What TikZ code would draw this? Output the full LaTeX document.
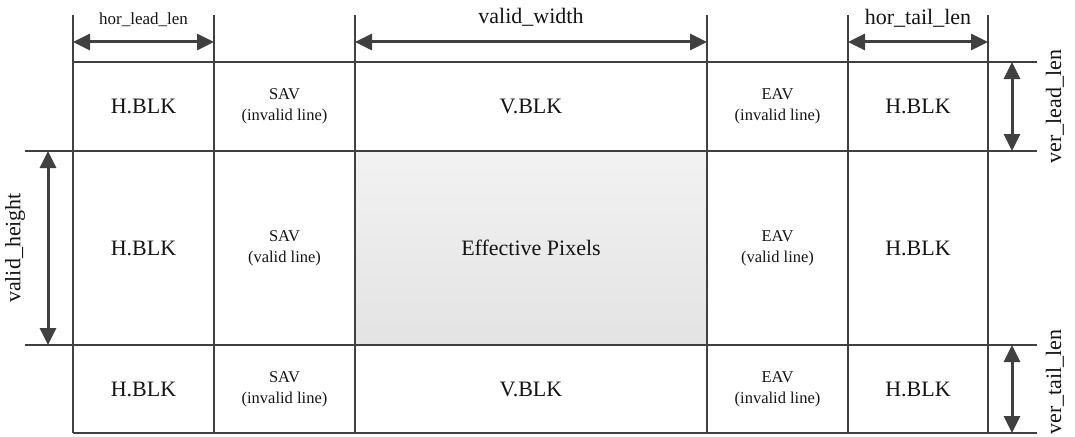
\documentclass[tikz,border=0pt]{standalone}
\usepackage{fontspec}
\setmainfont{Liberation Serif}
\usetikzlibrary{arrows.meta}
\definecolor{linegray}{RGB}{64,64,64}
\definecolor{textgray}{RGB}{20,20,20}
\definecolor{shadetop}{RGB}{242,242,242}
\definecolor{shadebot}{RGB}{227,227,227}
\tikzset{
	gridline/.style={draw=linegray, line width=2pt},
	dimarrow/.style={draw=linegray, line width=3pt,
		{Triangle[length=17pt,width=16pt]}-{Triangle[length=17pt,width=16pt]}},
	bigtext/.style={text=textgray, font=\fontsize{22}{26}\selectfont},
	smalltext/.style={text=textgray, align=center, font=\fontsize{16.5}{21}\selectfont},
	dimtext/.style={text=textgray, font=\fontsize{22}{26}\selectfont},
}
\begin{document}
\begin{tikzpicture} [x=1pt,y=-1pt]
		\useasboundingbox (0,0) rectangle (1075,436);
		% effective area
		\shade [top color=shadetop, bottom color=shadebot] (355,151) rectangle (707,345);
		% grid
		\foreach \xx in {73,214,355,707,848,988}
			\draw [gridline] (\xx,15) -- (\xx,433);
		\draw [gridline] (73,62) -- (1037,62);
		\draw [gridline] (25,151) -- (1037,151);
		\draw [gridline] (25,345) -- (1037,345);
		\draw [gridline] (73,433) -- (1037,433);
		% top row
		\node [bigtext] (hblk1) at (143.5,106.5) {H.BLK};
		\node [smalltext] (sav1) at (284.5,106.5) {SAV\\(invalid line)};
		\node [bigtext] (vblk1) at (531,106.5) {V.BLK};
		\node [smalltext] (eav1) at (777.5,106.5) {EAV\\(invalid line)};
		\node [bigtext] (hblk2) at (918,106.5) {H.BLK};
		% middle row
		\node [bigtext] (hblk3) at (143.5,248) {H.BLK};
		\node [smalltext] (sav2) at (284.5,248) {SAV\\(valid line)};
		\node [bigtext] (pix) at (531,248) {Effective Pixels};
		\node [smalltext] (eav2) at (777.5,248) {EAV\\(valid line)};
		\node [bigtext] (hblk4) at (918,248) {H.BLK};
		% bottom row
		\node [bigtext] (hblk5) at (143.5,389) {H.BLK};
		\node [smalltext] (sav3) at (284.5,389) {SAV\\(invalid line)};
		\node [bigtext] (vblk2) at (531,389) {V.BLK};
		\node [smalltext] (eav3) at (777.5,389) {EAV\\(invalid line)};
		\node [bigtext] (hblk6) at (918,389) {H.BLK};
		% dimension ends
		\coordinate (hl0) at (73,42);
		\coordinate (hl1) at (214,42);
		\coordinate (vw0) at (355,42);
		\coordinate (vw1) at (707,42);
		\coordinate (ht0) at (848,42);
		\coordinate (ht1) at (988,42);
		\coordinate (vl0) at (1012,62);
		\coordinate (vl1) at (1012,151);
		\coordinate (vh0) at (48,151);
		\coordinate (vh1) at (48,345);
		\coordinate (vt0) at (1012,345);
		\coordinate (vt1) at (1012,433);
		\draw [dimarrow] (hl0) -- (hl1);
		\draw [dimarrow] (vw0) -- (vw1);
		\draw [dimarrow] (ht0) -- (ht1);
		\draw [dimarrow] (vl0) -- (vl1);
		\draw [dimarrow] (vh0) -- (vh1);
		\draw [dimarrow] (vt0) -- (vt1);
		% dimension labels
		\node [text=textgray, font=\fontsize{17}{20}\selectfont] (hlead) at (143.5,20) {hor\_lead\_len};
		\node [dimtext] (vwidth) at (531,17) {valid\_width};
		\node [dimtext] (htail) at (918,18) {hor\_tail\_len};
		\node [dimtext, rotate=90] (vlead) at (1055,106.5) {ver\_lead\_len};
		\node [dimtext, rotate=90] (vheight) at (15,248) {valid\_height};
		\node [dimtext, rotate=90] (vtail) at (1055,382) {ver\_tail\_len};
	\end{tikzpicture}
\end{document}
